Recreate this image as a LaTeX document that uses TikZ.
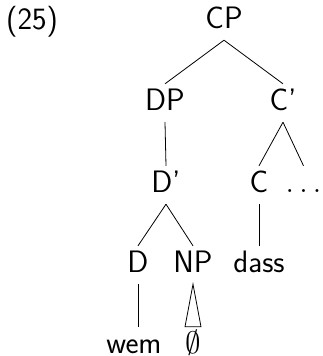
\RequirePackage{fix-cm}
\documentclass[tikz,border=0pt]{standalone}
\usepackage{fontspec}
\usetikzlibrary{calc}
\tikzset{
  lbl/.style={font=\sffamily\fontsize{31}{36}\selectfont, anchor=base,
    inner xsep=0pt, inner ysep=4pt, text height=22pt, text depth=8pt},
  leaf/.style={lbl, inner ysep=0pt, text height=26pt, text depth=0pt},
  branch/.style={line width=0.8pt},
}
\begin{document}
\begin{tikzpicture}[x=1pt, y=-1pt]
  \useasboundingbox (0,0) rectangle (322,356);
  % example number
  \node[lbl, anchor=base west] (num) at (6,29) {(25)};
  % tree nodes
  \node[lbl] (cp)    at (224,28)  {CP};
  \node[lbl] (dp)    at (165,110) {DP};
  \node[lbl] (cbar)  at (283,110) {C'};
  \node[lbl] (dbar)  at (166,192) {D'};
  \node[lbl] (c)     at (259,192) {C};
  \node[lbl, anchor=base west] (rest) at (285.5,192) {$\ldots$};
  \node[lbl] (d)     at (138,272) {D};
  \node[lbl] (np)    at (193,272) {NP};
  \node[lbl] (dass)  at (259,272) {dass};
  \node[leaf] (wem)   at (134,353) {wem};
  \node[leaf] (empty) at (193,353) {$\emptyset$};
  % branches
  \draw[branch] (cp.south) -- (dp.north);
  \draw[branch] (cp.south) -- (cbar.north);
  \draw[branch] (dp.south) -- (dbar.north);
  \draw[branch] (cbar.south) -- (c.north);
  \draw[branch] (cbar.south) -- (rest.north);
  \draw[branch] (dbar.south) -- (d.north);
  \draw[branch] (dbar.south) -- (np.north);
  \draw[branch] (c.south) -- (dass.north);
  \draw[branch] (d.south) -- (d.south |- wem.north);
  \draw[branch] (np.south) -- ($(empty.north)+(-8,0)$) -- ($(empty.north)+(8,0)$) -- cycle;
\end{tikzpicture}
\end{document}
